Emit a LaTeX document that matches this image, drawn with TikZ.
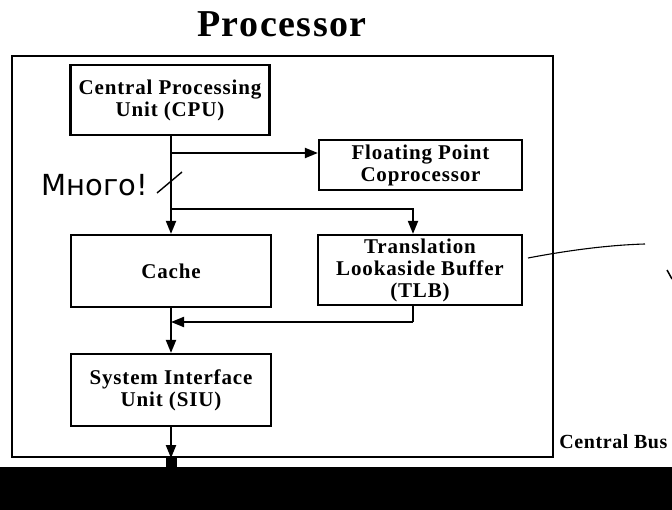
\documentclass[tikz,border=0pt]{standalone}
\usepackage{fontspec}
\setmainfont{Liberation Serif}
\newfontfamily\handfont{DejaVu Sans}
\usetikzlibrary{arrows.meta}
\tikzset{
  px/.style={x=1pt,y=-1pt},
  blk/.style={draw,line width=2.2pt,rectangle,align=center,inner sep=0pt,
    font=\fontsize{21}{22}\selectfont\bfseries\addfontfeature{LetterSpace=4}},
  conn/.style={line width=2pt,-{Triangle[length=13pt,width=10pt]}},
  plain/.style={line width=2pt}
}
\begin{document}
\begin{tikzpicture}[px]
\useasboundingbox (0,0) rectangle (672,510);
% title
\node[font=\fontsize{38}{40}\selectfont\bfseries\addfontfeature{LetterSpace=4}] (title) at (282,24) {Processor};
% outer processor box
\node[draw,line width=2.2pt,minimum width=541pt,minimum height=401pt,inner sep=0pt] (outer) at (282.5,256.5) {};
% blocks
\node[blk,minimum width=199pt,minimum height=70pt] (cpu) at (170,100) {Central Processing\\Unit (CPU)};
\node[blk,minimum width=203pt,minimum height=50pt] (fpu) at (420.5,165) {Floating Point\\Coprocessor};
\node[blk,minimum width=200pt,minimum height=72pt] (cache) at (171,271) {Cache};
\node[blk,minimum width=204pt,minimum height=70pt] (tlb) at (420,270) {Translation\\Lookaside Buffer\\(TLB)};
\node[blk,minimum width=200pt,minimum height=72pt] (siu) at (171,390) {System Interface\\Unit (SIU)};
% bus
\node[fill=black,minimum width=672pt,minimum height=43pt,inner sep=0pt] (bus) at (336,488.5) {};
\node[fill=black,minimum width=11pt,minimum height=10pt,inner sep=0pt] (stub) at (171.5,462) {};
\node[font=\fontsize{20}{22}\selectfont\bfseries\addfontfeature{LetterSpace=3},anchor=east] (buslabel) at (671,442) {Central Bus};
% connector points
\coordinate (tfp) at (171,153);
\coordinate (ttlb) at (171,209);
\coordinate (tlbx) at (413,209);
\coordinate (tlbo) at (413,322);
\coordinate (tmerge) at (171,322);
% connectors
\draw[conn] (cpu.south -| cache.north) -- (cache.north);
\draw[conn] (tfp) -- (tfp -| fpu.west);
\draw[conn] (ttlb) -- (tlbx) -- (tlbx |- tlb.north);
\draw[plain] (tlbx |- tlb.south) -- (tlbo);
\draw[conn] (tlbo) -- (tmerge);
\draw[conn] (cache.south) -- (siu.north);
\draw[conn] (siu.south) -- (siu.south |- outer.south);
% handwriting
\node[font=\handfont\fontsize{29}{30}\selectfont,anchor=west] (note) at (38,185) {Много!};
\coordinate (sl1) at (157,193);
\coordinate (sl2) at (182,172);
\draw[line width=1.4pt] (sl1) -- (sl2);
\coordinate (h1) at (528,258);
\coordinate (h2) at (645,244);
\draw[line width=1.1pt] (h1) .. controls (570,250) and (610,245) .. (h2);
\coordinate (v1) at (667,270);
\coordinate (v2) at (672,279);
\draw[line width=1.5pt] (v1) -- (v2);
\end{tikzpicture}
\end{document}
